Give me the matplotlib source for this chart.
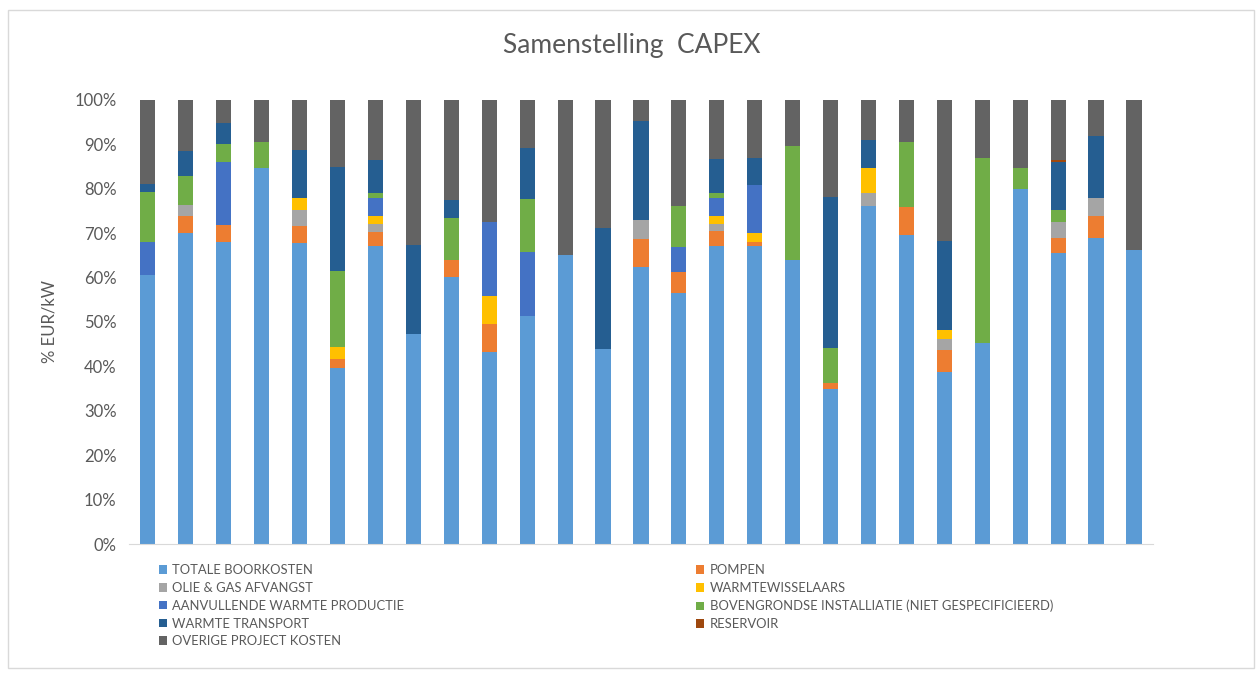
import matplotlib
matplotlib.use('Agg')
import numpy as np
import matplotlib.pyplot as plt
from matplotlib.patches import Rectangle

# series in stacking order (percent of total CAPEX per project)
series_names = [
    'TOTALE BOORKOSTEN',
    'POMPEN',
    'OLIE & GAS AFVANGST',
    'WARMTEWISSELAARS',
    'AANVULLENDE WARMTE PRODUCTIE',
    'BOVENGRONDSE INSTALLIATIE (NIET GESPECIFICIEERD)',
    'WARMTE TRANSPORT',
    'RESERVOIR',
    'OVERIGE PROJECT KOSTEN',
]
colors = ['#5B9BD5', '#ED7D31', '#A5A5A5', '#FFC000', '#4472C4',
          '#70AD47', '#255E91', '#9E480E', '#636363']

totale = [60.6, 70.1, 67.9, 84.6, 67.7, 39.6, 67.1, 47.4, 60.2, 43.3, 51.4, 65.1, 43.9, 62.3,
          56.5, 67.0, 67.1, 64.0, 34.8, 76.0, 69.6, 38.8, 45.3, 80.0, 65.5, 68.8, 66.2]
pompen = [0, 3.8, 3.9, 0, 3.8, 2.0, 3.2, 0, 3.8, 6.2, 0, 0, 0, 6.3,
          4.7, 3.4, 1.0, 0, 1.4, 0, 6.2, 4.9, 0, 0, 3.3, 5.1, 0]
olie_gas = [0, 2.5, 0, 0, 3.7, 0, 1.7, 0, 0, 0, 0, 0, 0, 4.4,
            0, 1.6, 0, 0, 0, 3.0, 0, 2.4, 0, 0, 3.6, 4.0, 0]
warmtewisselaars = [0, 0, 0, 0, 2.7, 2.7, 1.9, 0, 0, 6.4, 0, 0, 0, 0,
                    0, 1.9, 1.9, 0, 0, 5.6, 0, 2.2, 0, 0, 0, 0, 0]
aanvullende = [7.3, 0, 14.3, 0, 0, 0, 4.0, 0, 0, 16.7, 14.4, 0, 0, 0,
               5.6, 4.0, 10.9, 0, 0, 0, 0, 0, 0, 0, 0, 0, 0]
bovengronds = [11.3, 6.5, 3.9, 6.0, 0, 17.2, 1.2, 0, 9.5, 0, 11.9, 0, 0, 0,
               9.2, 1.2, 0, 25.7, 8.0, 0, 14.8, 0, 41.7, 4.6, 2.7, 0, 0]
warmte_transport = [1.8, 5.7, 4.9, 0, 10.8, 23.3, 7.4, 19.9, 4.0, 0, 11.4, 0, 27.2, 22.3,
                    0, 7.5, 6.0, 0, 34.0, 6.4, 0, 19.9, 0, 0, 11.0, 14.0, 0]
reservoir = [0, 0, 0, 0, 0, 0, 0, 0, 0, 0, 0, 0, 0, 0,
             0, 0, 0, 0, 0, 0, 0, 0, 0, 0, 0.3, 0, 0]
overige = [19.0, 11.4, 5.1, 9.4, 11.3, 15.2, 13.5, 32.7, 22.5, 27.4, 10.9, 34.9, 28.9, 4.7,
           24.0, 13.4, 13.1, 10.3, 21.8, 9.0, 9.4, 31.8, 13.0, 15.4, 13.6, 8.1, 33.8]

data = [totale, pompen, olie_gas, warmtewisselaars, aanvullende,
        bovengronds, warmte_transport, reservoir, overige]

text_color = '#595959'
plt.rcParams['font.family'] = ['Lato', 'DejaVu Sans']

fig = plt.figure(figsize=(12.58, 6.75), dpi=100)
ax = fig.add_axes([0.1025, 0.194, 0.814, 0.658])

x = np.arange(len(totale))
bottom = np.zeros(len(totale))
handles = []
for name, vals, col in zip(series_names, data, colors):
    vals = np.array(vals, dtype=float)
    b = ax.bar(x, vals, bottom=bottom, width=0.4, color=col, label=name, linewidth=0)
    handles.append(b)
    bottom += vals

ax.set_xlim(-0.5, len(totale) - 0.5)
ax.set_ylim(0, 100)
ax.set_yticks(np.arange(0, 101, 10))
ax.set_yticklabels(['%d%%' % v for v in range(0, 101, 10)])
ax.set_xticks([])
ax.tick_params(axis='y', length=0, labelsize=12, colors=text_color, pad=9)
for side in ['top', 'right', 'left']:
    ax.spines[side].set_visible(False)
ax.spines['bottom'].set_color('#D9D9D9')
ax.set_ylabel('% EUR/kW', fontsize=12, color=text_color, labelpad=12)

fig.text(0.502, 0.933, 'Samenstelling  CAPEX', ha='center', va='center',
         fontsize=19, color=text_color)

# legend in two columns, filled row by row like Excel
left_idx = [0, 2, 4, 6, 8]
right_idx = [1, 3, 5, 7]
leg_kw = dict(frameon=False, fontsize=9.4, handlelength=0.62, handleheight=0.62,
              handletextpad=0.45, labelspacing=0.44, labelcolor=text_color,
              borderaxespad=0, borderpad=0)
leg1 = fig.legend([handles[i] for i in left_idx], [series_names[i] for i in left_idx],
                  loc='upper left', bbox_to_anchor=(0.126, 0.164), **leg_kw)
leg2 = fig.legend([handles[i] for i in right_idx], [series_names[i] for i in right_idx],
                  loc='upper left', bbox_to_anchor=(0.553, 0.164), **leg_kw)

# chart border
fig.patches.append(Rectangle((0.006, 0.01), 0.991, 0.975, transform=fig.transFigure,
                             fill=False, edgecolor='#D9D9D9', linewidth=1))

plt.savefig('out.png', dpi=100)
plt.close()
